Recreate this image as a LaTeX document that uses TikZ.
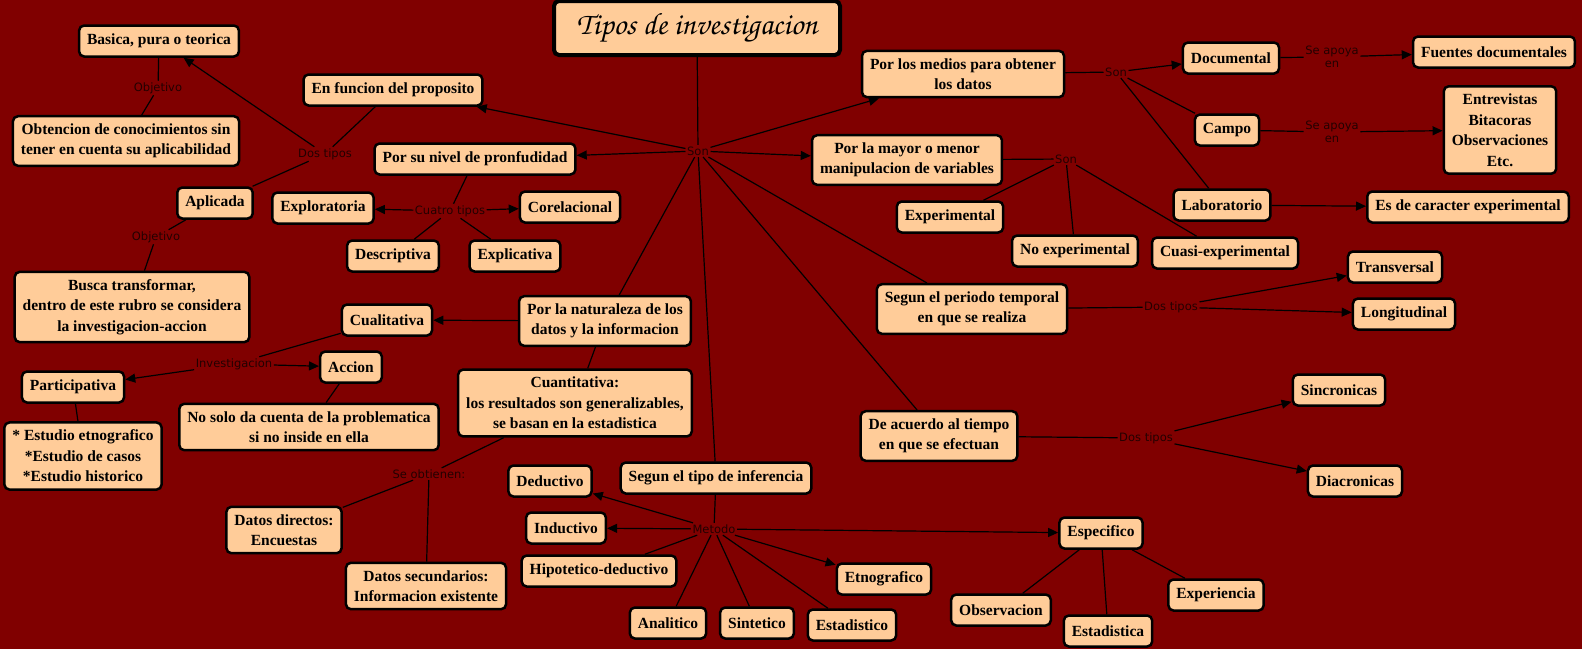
\documentclass[tikz,border=0pt]{standalone}
\usepackage[T1,TU]{fontenc}
\usepackage{fontspec}
\setmainfont{Liberation Serif}
\newfontfamily\lblfont{DejaVu Sans}
\newcommand\chancery{\fontencoding{T1}\fontfamily{pzc}\fontseries{mb}\fontshape{it}\selectfont}
\definecolor{cmbg}{RGB}{128,0,0}
\definecolor{cmbox}{RGB}{255,204,153}
\definecolor{cmtxt}{RGB}{35,0,0}
\usetikzlibrary{arrows.meta}

\begin{document}
\begin{tikzpicture}[x=1pt,y=-1pt,
  box/.style={draw=black,fill=cmbox,line width=2.5pt,rounded corners=5pt,align=center,inner xsep=8pt,inner ysep=7.5pt,minimum height=31pt,font=\fontsize{15.5}{20.5}\selectfont\bfseries},
  lbl/.style={inner sep=1.5pt,align=center,text=cmtxt,font=\lblfont\fontsize{11.5}{12.5}\selectfont},
  link/.style={draw=black,line width=1.2pt},
  arr/.style={link,-{Triangle[length=10pt,width=9pt]}}]
  \fill[cmbg] (0,0) rectangle (1582,649);
  \useasboundingbox (0,0) rectangle (1582,649);
  % concepts
  \node[box,line width=4pt,minimum width=286pt,minimum height=54pt,font=\chancery\fontsize{31}{33}\selectfont] (title) at (697,28) {Tipos de investigacion};
  \node[box] (basica) at (159,41) {Basica, pura o teorica};
  \node[box] (funcion) at (393,90) {En funcion del proposito};
  \node[box] (obtencion) at (126,141) {Obtencion de conocimientos sin\\tener en cuenta su aplicabilidad};
  \node[box] (nivel) at (475,159) {Por su nivel de pronfudidad};
  \node[box] (aplicada) at (215,203) {Aplicada};
  \node[box] (exploratoria) at (323,208) {Exploratoria};
  \node[box] (corelacional) at (570,207) {Corelacional};
  \node[box] (descriptiva) at (393,256) {Descriptiva};
  \node[box] (explicativa) at (515,256) {Explicativa};
  \node[box] (busca) at (132,307) {Busca transformar,\\dentro de este rubro se considera\\la investigacion-accion};
  \node[box] (cualitativa) at (387,320) {Cualitativa};
  \node[box] (naturaleza) at (605,321) {Por la naturaleza de los\\datos y la informacion};
  \node[box] (participativa) at (73,387) {Participativa};
  \node[box] (accion) at (351,367) {Accion};
  \node[box] (cuantitativa) at (575,403) {Cuantitativa:\\los resultados son generalizables,\\se basan en la estadistica};
  \node[box] (nosolo) at (309,427) {No solo da cuenta de la problematica\\si no inside en ella};
  \node[box] (estudios) at (83,456) {* Estudio etnografico\\*Estudio de casos\\*Estudio historico};
  \node[box] (directos) at (284,530) {Datos directos:\\Encuestas};
  \node[box] (secundarios) at (426,586) {Datos secundarios:\\Informacion existente};
  \node[box] (deductivo) at (550,481) {Deductivo};
  \node[box] (inferencia) at (716,478) {Segun el tipo de inferencia};
  \node[box] (inductivo) at (566,528) {Inductivo};
  \node[box] (hipotetico) at (599,571) {Hipotetico-deductivo};
  \node[box] (analitico) at (668,623) {Analitico};
  \node[box] (sintetico) at (757,623) {Sintetico};
  \node[box] (estadistico) at (852,625) {Estadistico};
  \node[box] (etnografico) at (884,579) {Etnografico};
  \node[box] (especifico) at (1101,533) {Especifico};
  \node[box] (observacion) at (1001,610) {Observacion};
  \node[box] (estadistica) at (1108,631) {Estadistica};
  \node[box] (experiencia) at (1216,595) {Experiencia};
  \node[box] (acuerdo) at (939,436) {De acuerdo al tiempo\\en que se efectuan};
  \node[box] (sincronicas) at (1339,390) {Sincronicas};
  \node[box] (diacronicas) at (1355,481) {Diacronicas};
  \node[box] (periodo) at (972,309) {Segun el periodo temporal\\en que se realiza};
  \node[box] (transversal) at (1395,267) {Transversal};
  \node[box] (longitudinal) at (1404,314) {Longitudinal};
  \node[box] (medios) at (963,74) {Por los medios para obtener\\los datos};
  \node[box] (documental) at (1231,58) {Documental};
  \node[box] (fuentes) at (1494,52) {Fuentes documentales};
  \node[box] (campo) at (1227,130) {Campo};
  \node[box] (entrevistas) at (1500,130) {Entrevistas\\Bitacoras\\Observaciones\\Etc.};
  \node[box] (laboratorio) at (1222,205) {Laboratorio};
  \node[box] (caracter) at (1468,207) {Es de caracter experimental};
  \node[box] (mayor) at (907,160) {Por la mayor o menor\\manipulacion de variables};
  \node[box] (experimental) at (950,217) {Experimental};
  \node[box] (noexperimental) at (1075,251) {No experimental};
  \node[box] (cuasi) at (1225,253) {Cuasi-experimental};
  % linking phrases
  \node[lbl] (son) at (698,151) {Son};
  \node[lbl] (objetivoA) at (158,88) {Objetivo};
  \node[lbl] (dostiposA) at (325,154) {Dos tipos};
  \node[lbl] (objetivoB) at (156,237) {Objetivo};
  \node[lbl] (cuatro) at (450,211) {Cuatro tipos};
  \node[lbl] (investigacion) at (234,364) {Investigacion};
  \node[lbl] (obtienen) at (429,474) {Se obtienen:};
  \node[lbl] (metodo) at (714,529) {Metodo};
  \node[lbl] (dostiposC) at (1146,438) {Dos tipos};
  \node[lbl] (dostiposB) at (1171,307) {Dos tipos};
  \node[lbl] (sonB) at (1116,72) {Son};
  \node[lbl] (apoyaA) at (1332,57) {Se apoya\\en};
  \node[lbl] (apoyaB) at (1332,132) {Se apoya\\en};
  \node[lbl] (sonC) at (1066,159) {Son};
  % connectors
  \draw[link] (title) -- (son);
  \draw[arr] (son) -- (funcion);
  \draw[arr] (son) -- (nivel);
  \draw[arr] (son) -- (medios);
  \draw[arr] (son) -- (mayor);
  \draw[link] (son) -- (naturaleza);
  \draw[link] (son) -- (inferencia);
  \draw[link] (son) -- (periodo);
  \draw[link] (son) -- (acuerdo);
  \draw[link] (funcion) -- (dostiposA);
  \draw[arr] (dostiposA) -- (basica);
  \draw[link] (dostiposA) -- (aplicada);
  \draw[link] (basica) -- (objetivoA);
  \draw[link] (objetivoA) -- (obtencion);
  \draw[link] (aplicada) -- (objetivoB);
  \draw[link] (objetivoB) -- (busca);
  \draw[link] (nivel) -- (cuatro);
  \draw[arr] (cuatro) -- (exploratoria);
  \draw[arr] (cuatro) -- (corelacional);
  \draw[link] (cuatro) -- (descriptiva);
  \draw[link] (cuatro) -- (explicativa);
  \draw[arr] (naturaleza) -- (cualitativa);
  \draw[link] (naturaleza) -- (cuantitativa);
  \draw[link] (cualitativa) -- (investigacion);
  \draw[arr] (investigacion) -- (participativa);
  \draw[arr] (investigacion) -- (accion);
  \draw[link] (accion) -- (nosolo);
  \draw[link] (participativa) -- (estudios);
  \draw[link] (cuantitativa) -- (obtienen);
  \draw[link] (obtienen) -- (directos);
  \draw[link] (obtienen) -- (secundarios);
  \draw[link] (inferencia) -- (metodo);
  \draw[arr] (metodo) -- (deductivo);
  \draw[arr] (metodo) -- (inductivo);
  \draw[link] (metodo) -- (hipotetico);
  \draw[link] (metodo) -- (analitico);
  \draw[link] (metodo) -- (sintetico);
  \draw[link] (metodo) -- (estadistico);
  \draw[arr] (metodo) -- (etnografico);
  \draw[arr] (metodo) -- (especifico);
  \draw[link] (especifico) -- (observacion);
  \draw[link] (especifico) -- (estadistica);
  \draw[link] (especifico) -- (experiencia);
  \draw[link] (acuerdo) -- (dostiposC);
  \draw[arr] (dostiposC) -- (sincronicas);
  \draw[arr] (dostiposC) -- (diacronicas);
  \draw[link] (periodo) -- (dostiposB);
  \draw[arr] (dostiposB) -- (transversal);
  \draw[arr] (dostiposB) -- (longitudinal);
  \draw[link] (medios) -- (sonB);
  \draw[arr] (sonB) -- (documental);
  \draw[link] (sonB) -- (campo);
  \draw[link] (sonB) -- (laboratorio);
  \draw[link] (documental) -- (apoyaA);
  \draw[arr] (apoyaA) -- (fuentes);
  \draw[link] (campo) -- (apoyaB);
  \draw[arr] (apoyaB) -- (entrevistas);
  \draw[arr] (laboratorio) -- (caracter);
  \draw[link] (mayor) -- (sonC);
  \draw[link] (sonC) -- (experimental);
  \draw[link] (sonC) -- (noexperimental);
  \draw[link] (sonC) -- (cuasi);
\end{tikzpicture}
\end{document}
